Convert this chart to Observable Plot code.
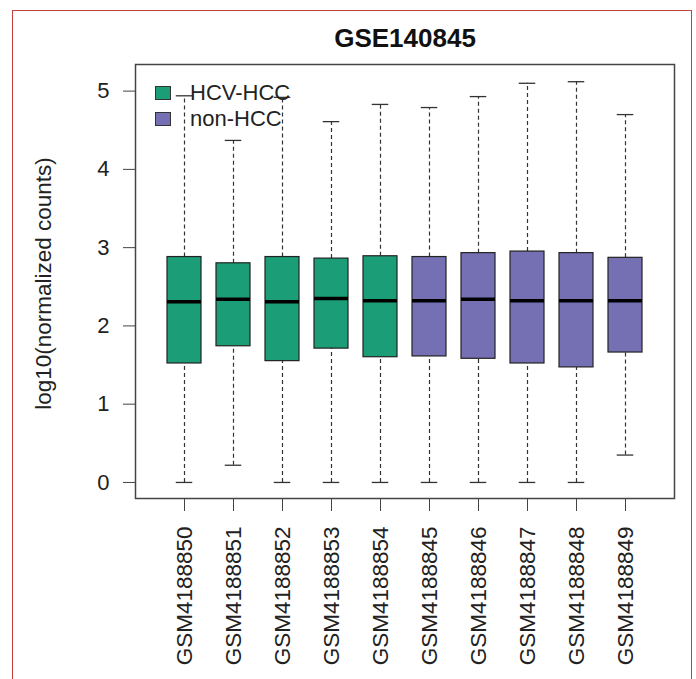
<!DOCTYPE html>
<html>
<head>
<meta charset="utf-8">
<script src="https://cdn.jsdelivr.net/npm/d3@7"></script>
<script src="https://cdn.jsdelivr.net/npm/@observablehq/plot@0.6"></script>
<style>
  html, body { margin: 0; padding: 0; background: #fff; }
  #wrap { position: relative; width: 696px; height: 679px; overflow: hidden; background: #fff;
          font-family: "Liberation Sans", Arial, "DejaVu Sans", sans-serif; }
  #border { position: absolute; left: 12px; top: 10px; width: 680px; height: 720px;
            box-sizing: border-box; border: 1.5px solid #c4403c; pointer-events: none; }
  #chart { position: absolute; left: 0; top: 0; }
  #legend { position: absolute; left: 155px; top: 80px; font-size: 22px; color: #222; }
  .row { display: flex; align-items: center; height: 26px; }
  .sw { width: 14px; height: 12px; border: 1px solid #333; margin-right: 19px; }
</style>
</head>
<body>
<div id="wrap">
  <div id="chart"></div>
  <div id="legend"></div>
  <div id="border"></div>
</div>
<script>
const samples = ["GSM4188850","GSM4188851","GSM4188852","GSM4188853","GSM4188854",
                 "GSM4188845","GSM4188846","GSM4188847","GSM4188848","GSM4188849"];
const groups = ["HCV-HCC","HCV-HCC","HCV-HCC","HCV-HCC","HCV-HCC",
                "non-HCC","non-HCC","non-HCC","non-HCC","non-HCC"];
const lowerWhisker = [0, 0.22, 0, 0, 0, 0, 0, 0, 0, 0.35];
const q1 =          [1.52, 1.74, 1.55, 1.71, 1.60, 1.61, 1.58, 1.52, 1.47, 1.66];
const median =      [2.31, 2.34, 2.31, 2.35, 2.32, 2.32, 2.34, 2.32, 2.32, 2.32];
const q3 =          [2.88, 2.80, 2.88, 2.86, 2.89, 2.88, 2.93, 2.95, 2.93, 2.87];
const upperWhisker = [4.94, 4.37, 4.92, 4.61, 4.83, 4.79, 4.93, 5.10, 5.12, 4.70];
const legendLabels = ["HCV-HCC", "non-HCC"];
const legendColors = ["#1b9e77", "#7570b3"];
const yTicks = [0, 1, 2, 3, 4, 5];
const title = "GSE140845";
const yLabel = "log10(normalized counts)";

const data = samples.map((s, i) => ({
  sample: s, group: groups[i], lo: lowerWhisker[i], q1: q1[i],
  med: median[i], q3: q3[i], hi: upperWhisker[i]
}));

const W = 696, H = 679;
const mL = 135, mR = 22, mT = 64, mB = 181;
const frameW = W - mL - mR;
const step = frameW / (samples.length - 0.3 + 2 * 0.55);
const capInset = step * 0.7 / 4;

const plot = Plot.plot({
  width: W, height: H,
  marginLeft: mL, marginRight: mR, marginTop: mT, marginBottom: mB,
  style: { fontFamily: "'Liberation Sans', Arial, sans-serif", background: "white", color: "#222" },
  x: { type: "band", domain: samples, paddingInner: 0.3, paddingOuter: 0.55, align: 0.5 },
  y: { domain: [-0.205, 5.34] },
  color: { domain: legendLabels, range: legendColors },
  marks: [
    Plot.ruleX(data, { x: "sample", y1: "q3", y2: "hi", stroke: "#333", strokeWidth: 1.2, strokeDasharray: "4,3" }),
    Plot.ruleX(data, { x: "sample", y1: "lo", y2: "q1", stroke: "#333", strokeWidth: 1.2, strokeDasharray: "4,3" }),
    Plot.tickY(data, { x: "sample", y: "hi", stroke: "#333", strokeWidth: 1.3, insetLeft: capInset, insetRight: capInset }),
    Plot.tickY(data, { x: "sample", y: "lo", stroke: "#333", strokeWidth: 1.3, insetLeft: capInset, insetRight: capInset }),
    Plot.barY(data, { x: "sample", y1: "q1", y2: "q3", fill: "group", stroke: "#222", strokeWidth: 1.2 }),
    Plot.tickY(data, { x: "sample", y: "med", stroke: "#000", strokeWidth: 3.5 }),
    Plot.frame({ stroke: "#444", strokeWidth: 1.5 }),
    Plot.axisY({ ticks: yTicks, tickFormat: d3.format("d"), tickSize: 12, tickPadding: 14,
                 fontSize: 22, label: null, stroke: "#444" }),
    Plot.axisX({ tickRotate: -90, tickSize: 13, tickPadding: 15, fontSize: 22.5, label: null, stroke: "#444" }),
    Plot.text([title], { text: d => d, frameAnchor: "top", dy: -26, lineAnchor: "middle",
                         fontSize: 26, fontWeight: "bold", fill: "#111" }),
    Plot.text([yLabel], { text: d => d, frameAnchor: "left", dx: -92, dy: 2, rotate: -90,
                          textAnchor: "middle", lineAnchor: "middle",
                          fontSize: 22.5, fill: "#222" })
  ]
});
document.getElementById("chart").appendChild(plot);

const leg = document.getElementById("legend");
legendLabels.forEach((l, i) => {
  const row = document.createElement("div");
  row.className = "row";
  const sw = document.createElement("div");
  sw.className = "sw";
  sw.style.background = legendColors[i];
  const t = document.createElement("span");
  t.textContent = l;
  row.appendChild(sw); row.appendChild(t);
  leg.appendChild(row);
});
</script>
</body>
</html>
